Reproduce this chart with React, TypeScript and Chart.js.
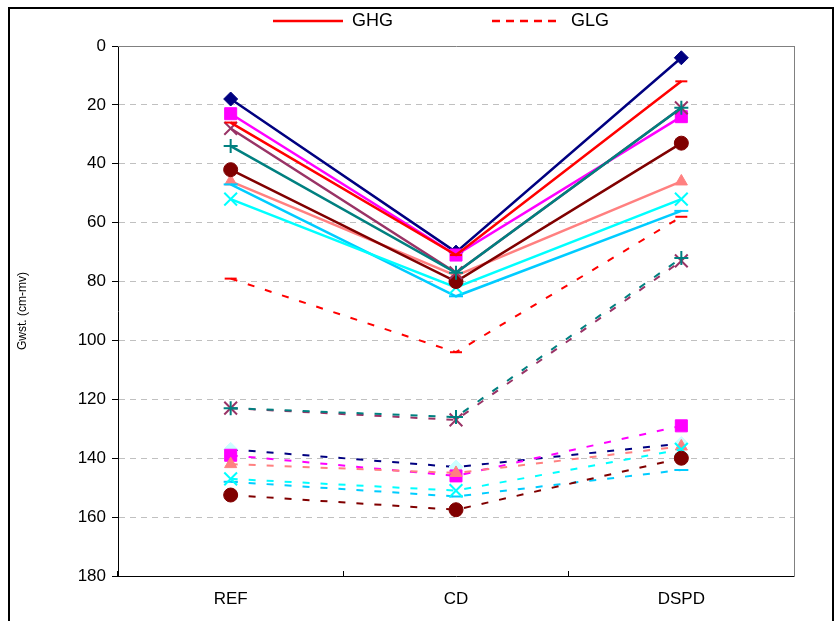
import { useEffect, useRef } from 'react';
import { Chart, registerables } from 'chart.js';

Chart.register(...registerables);

const categories = ['REF', 'CD', 'DSPD'];
const yMin = 0;
const yMax = 180;
const yStep = 20;
const legendLabels = ['GHG', 'GLG'];
const yTitle = 'Gwst. (cm-mv)';

// GHG (solid lines)
const ghgRed = [26, 71, 12];
const ghgNavy = [18, 70, 4];
const ghgMagenta = [23, 71, 24];
const ghgPlum = [28, 77, 21];
const ghgTeal = [34, 77, 21];
const ghgDarkRed = [42, 80, 33];
const ghgSalmon = [46, 78, 46];
const ghgSkyBlue = [47, 85, 56];
const ghgCyan = [52, 82, 52];

// GLG (dashed lines)
const glgRed = [79, 104, 58];
const glgPlum = [123, 127, 73];
const glgTeal = [123, 126, 72];
const glgNavy = [137, 143, 135];
const glgMagenta = [139, 146, 129];
const glgSalmon = [142, 145, 136];
const glgCyan = [147, 151, 137];
const glgSkyBlue = [148, 153, 144];
const glgDarkRed = [152.5, 157.5, 140];

const FONT = "'Liberation Sans', Arial, sans-serif";
const DASH = [7, 11];

function series(
  label: string,
  data: number[],
  color: string,
  pointStyle: string,
  radius: number,
  dashed: boolean,
  markerColor?: string
) {
  const mc = markerColor ?? color;
  const stroked = ['cross', 'crossRot', 'star', 'line'].includes(pointStyle);
  return {
    label,
    data,
    borderColor: color,
    backgroundColor: color,
    borderWidth: dashed ? 2 : 2.5,
    borderDash: dashed ? DASH : [],
    pointStyle,
    pointRadius: radius,
    pointHoverRadius: radius,
    pointBackgroundColor: mc,
    pointBorderColor: mc,
    pointBorderWidth: stroked ? 2 : 1,
    tension: 0,
    fill: false,
    xAxisID: 'x',
    yAxisID: 'y',
  };
}

export default function App() {
  const ref = useRef<HTMLCanvasElement>(null);

  useEffect(() => {
    const canvas = ref.current;
    if (!canvas) return;

    const datasets = [
      series('GHG', ghgRed, '#FF0000', 'line', 6, false),
      series('GLG', glgRed, '#FF0000', 'line', 6, true),
      series('GHG teal', ghgTeal, '#008080', 'cross', 7, false),
      series('GLG teal', glgTeal, '#008080', 'cross', 7, true),
      series('GHG plum', ghgPlum, '#993366', 'crossRot', 9, false),
      series('GLG plum', glgPlum, '#993366', 'crossRot', 9, true),
      series('GHG darkred', ghgDarkRed, '#800000', 'circle', 7, false),
      series('GLG darkred', glgDarkRed, '#800000', 'circle', 7, true),
      series('GHG cyan', ghgCyan, '#00FFFF', 'crossRot', 9, false),
      series('GLG cyan', glgCyan, '#00FFFF', 'crossRot', 9, true),
      series('GHG skyblue', ghgSkyBlue, '#00CCFF', 'line', 7, false),
      series('GLG skyblue', glgSkyBlue, '#00CCFF', 'line', 7, true),
      series('GHG salmon', ghgSalmon, '#FF8080', 'triangle', 7, false),
      series('GLG salmon', glgSalmon, '#FF8080', 'triangle', 7, true),
      series('GHG magenta', ghgMagenta, '#FF00FF', 'rect', 8.5, false),
      series('GLG magenta', glgMagenta, '#FF00FF', 'rect', 8.5, true),
      series('GHG navy', ghgNavy, '#000080', 'rectRot', 7, false),
      series('GLG navy', glgNavy, '#000080', 'rectRot', 7, true, '#CCFFFF'),
    ];

    const chart = new Chart(canvas, {
      type: 'line',
      data: { labels: categories, datasets: datasets as any },
      options: {
        responsive: false,
        animation: false,
        devicePixelRatio: 1,
        layout: { padding: { left: 11, right: -35, top: 2, bottom: 0 } },
        plugins: {
          tooltip: { enabled: false },
          legend: {
            position: 'top',
            onClick: () => {},
            labels: {
              usePointStyle: true,
              pointStyleWidth: 70,
              padding: 10,
              color: '#000',
              font: { family: FONT, size: 18 },
              generateLabels: () => [
                {
                  text: legendLabels[0],
                  pointStyle: 'line',
                  strokeStyle: '#FF0000',
                  fillStyle: '#FF0000',
                  lineWidth: 2.5,
                  lineDash: [],
                  hidden: false,
                  datasetIndex: 0,
                  fontColor: '#000',
                },
                {
                  text: '',
                  pointStyle: 'line',
                  strokeStyle: 'rgba(0,0,0,0)',
                  fillStyle: 'rgba(0,0,0,0)',
                  lineWidth: 0,
                  hidden: false,
                  datasetIndex: 0,
                  fontColor: '#000',
                },
                {
                  text: legendLabels[1],
                  pointStyle: 'line',
                  strokeStyle: '#FF0000',
                  fillStyle: '#FF0000',
                  lineWidth: 2.5,
                  lineDash: [8, 6],
                  hidden: false,
                  datasetIndex: 1,
                  fontColor: '#000',
                },
              ] as any,
            },
          },
        },
        scales: {
          x: {
            type: 'category',
            position: 'bottom',
            offset: true,
            grid: {
              offset: true,
              drawOnChartArea: false,
              drawTicks: true,
              tickLength: -5,
              color: '#000',
              tickColor: '#000',
            },
            border: { color: '#000', width: 1 },
            ticks: { color: '#000', font: { family: FONT, size: 17 }, padding: 18 },
            afterFit: (s: any) => {
              s.height = 45;
            },
          },
          y: {
            type: 'linear',
            position: 'left',
            reverse: true,
            min: yMin,
            max: yMax,
            ticks: { stepSize: yStep, color: '#000', font: { family: FONT, size: 17 }, padding: 6 },
            grid: {
              color: '#C0C0C0',
              lineWidth: 1,
              tickColor: '#000',
              tickLength: 6,
              tickWidth: 1,
              tickBorderDash: [],
            },
            border: { color: '#000', width: 1, dash: [6, 5] },
            title: {
              display: true,
              text: yTitle,
              color: '#000',
              font: { family: FONT, size: 12 },
              padding: { top: 4, bottom: 4 },
            },
            afterFit: (s: any) => {
              s.width = 107;
            },
          },
          x2: {
            type: 'category',
            position: 'top',
            offset: true,
            ticks: { display: false },
            grid: { display: false },
            border: { color: '#808080', width: 1 },
            afterFit: (s: any) => {
              s.height = 6;
            },
          },
          y2: {
            type: 'linear',
            position: 'right',
            min: yMin,
            max: yMax,
            ticks: { display: false },
            grid: { display: false },
            border: { color: '#808080', width: 1 },
            afterFit: (s: any) => {
              s.width = 77;
            },
          },
        },
      } as any,
    });

    return () => chart.destroy();
  }, []);

  return (
    <>
      <div
        style={{
          position: 'fixed',
          left: 8,
          top: 7,
          width: 822,
          height: 700,
          border: '2px solid #000',
          background: '#fff',
        }}
      />
      <canvas
        ref={ref}
        width={836}
        height={621}
        style={{ position: 'fixed', left: 0, top: 0, width: 836, height: 621, zIndex: 1 }}
      />
    </>
  );
}
